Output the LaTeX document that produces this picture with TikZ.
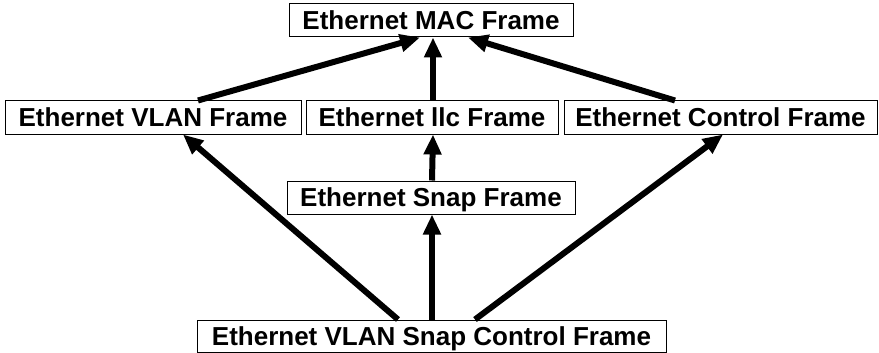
\documentclass[tikz,border=0pt]{standalone}
\usepackage{fontspec}
\setmainfont{Liberation Sans}
\usetikzlibrary{arrows.meta}
\begin{document}
\begin{tikzpicture}[x=1pt,y=-1pt,
  frame/.style={draw=black,line width=1pt,fill=white,inner sep=0pt,
    font=\fontsize{26}{30}\selectfont\bfseries,text height=18.6pt,text depth=0pt,
    minimum height=33pt},
  link/.style={line width=6pt,-{Triangle[length=20pt,width=17pt]}}]
\useasboundingbox (0,0) rectangle (879,353);
\node[frame,minimum width=284pt] (mac) at (431,20.5) {Ethernet MAC Frame};
\node[frame,minimum width=296pt] (vlan) at (153,117.5) {Ethernet VLAN Frame};
\node[frame,minimum width=252pt] (llc) at (432,117.5) {Ethernet llc Frame};
\node[frame,minimum width=313pt] (ctrl) at (720.5,117.5) {Ethernet Control Frame};
\node[frame,minimum width=288pt] (snap) at (431,197.5) {Ethernet Snap Frame};
\node[frame,minimum width=469pt,minimum height=32pt] (all) at (431.5,336) {Ethernet VLAN Snap Control Frame};
\draw[link] ([xshift=45pt]vlan.north) -- ([xshift=-11pt]mac.south);
\draw[link] ([xshift=1pt]llc.north) -- ([xshift=2pt]mac.south);
\draw[link] ([xshift=-45.5pt]ctrl.north) -- ([xshift=37pt]mac.south);
\draw[link] ([xshift=1pt]snap.north) -- ([xshift=1pt]llc.south);
\draw[link] ([xshift=0.5pt]all.north) -- ([xshift=1pt]snap.south);
\draw[link] ([xshift=-33.5pt]all.north) -- ([xshift=30pt]vlan.south);
\draw[link] ([xshift=43.5pt]all.north) -- ([xshift=2.5pt]ctrl.south);
\end{tikzpicture}
\end{document}
